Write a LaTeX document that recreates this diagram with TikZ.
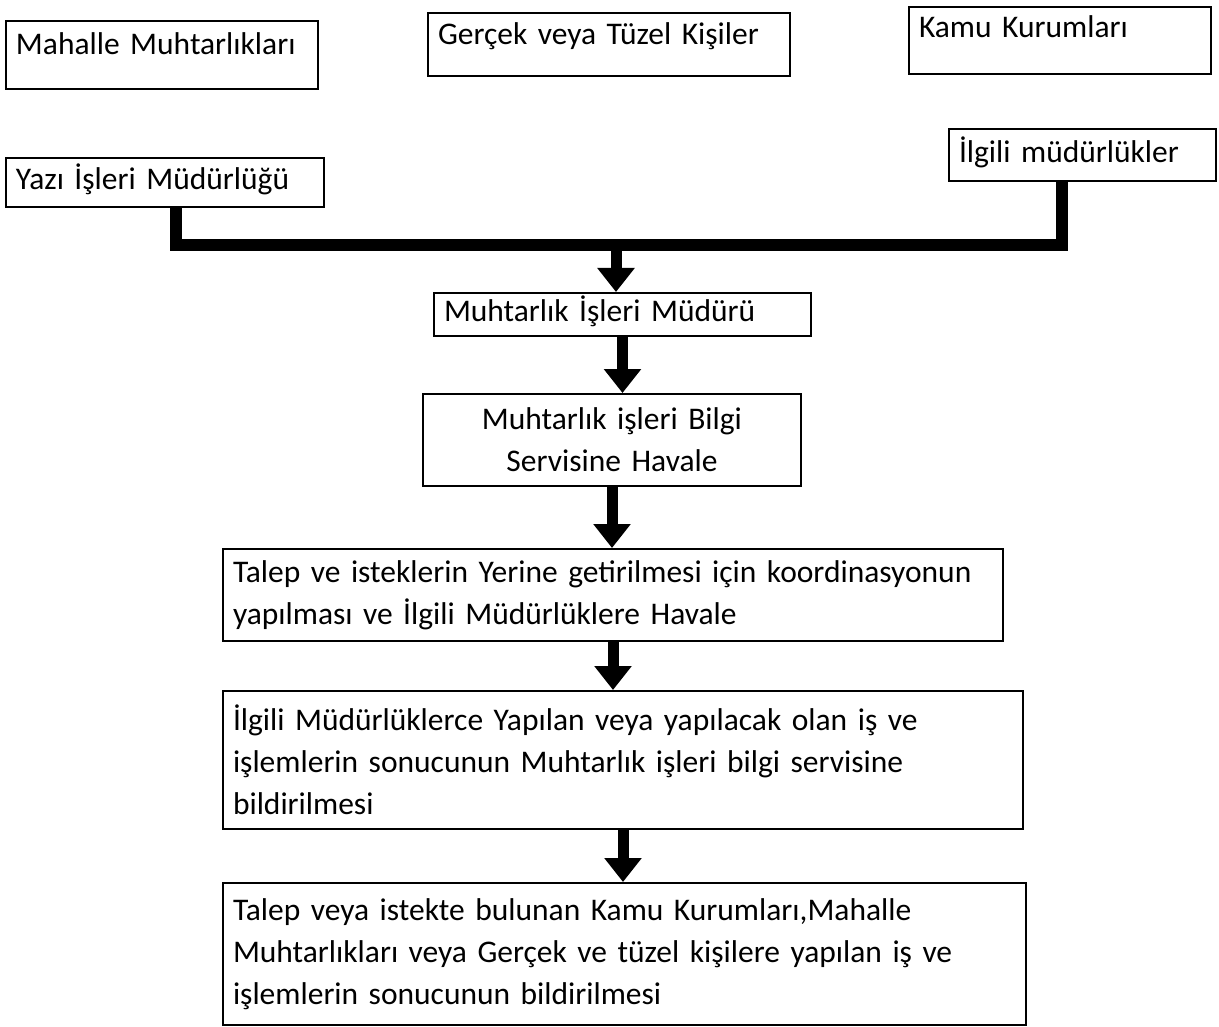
\documentclass[tikz,border=0pt]{standalone}
\usepackage{fontspec}
\setmainfont{Carlito}
\usetikzlibrary{arrows.meta}
\tikzset{
  box/.style={draw,line width=2pt,anchor=north west,inner xsep=10pt,inner ysep=6pt,align=left,font=\fontsize{31.5}{42}\selectfont},
  single/.style={text height=22pt,text depth=#1},
  single/.default=7pt,
  link/.style={line width=12pt},
  arr/.style={line width=11pt,-{Triangle[width=36pt,length=24pt]}}
}
\begin{document}
\begin{tikzpicture}[x=1pt,y=-1pt]
\useasboundingbox (0,0) rectangle (1219,1027);
\pgfmathsetmacro{\kbar}{245}
\node[box,single=23pt,text width=292pt,minimum height=68pt] (mahalle) at (5,20) {Mahalle Muhtarlıkları};
\node[box,single=21pt,text width=342pt,minimum height=63pt] (gercek) at (427,12) {Gerçek veya Tüzel Kişiler};
\node[box,single=27pt,text width=282pt,minimum height=67pt] (kamu) at (908,6) {Kamu Kurumları};
\node[box,single,text width=298pt,minimum height=49pt] (yazi) at (5,157) {Yazı İşleri Müdürlüğü};
\node[box,single,text width=247pt,minimum height=52pt] (ilgili) at (948,128) {İlgili müdürlükler};
\node[box,single,text width=357pt,minimum height=43pt] (mudur) at (433,292) {Muhtarlık İşleri Müdürü};
\node[box,align=center,text width=358pt,minimum height=92pt] (servis) at (422,393) {Muhtarlık işleri Bilgi\\Servisine Havale};
\node[box,text width=760pt,minimum height=92pt] (koord) at (222,548) {Talep ve isteklerin Yerine getirilmesi için koordinasyonun\\yapılması ve İlgili Müdürlüklere Havale};
\node[box,text width=780pt,minimum height=138pt] (sonuc) at (222,690) {İlgili Müdürlüklerce Yapılan veya yapılacak olan iş ve\\işlemlerin sonucunun Muhtarlık işleri bilgi servisine\\bildirilmesi};
\node[box,text width=783pt,minimum height=142pt] (bildir) at (222,882) {Talep veya istekte bulunan Kamu Kurumları,Mahalle\\Muhtarlıkları veya Gerçek ve tüzel kişilere yapılan iş ve\\işlemlerin sonucunun bildirilmesi};
% collecting bar
\coordinate (join) at (616,\kbar);
\draw[link] ([xshift=11pt]yazi.south) |- (join) -| ([xshift=-21pt]ilgili.south);
\draw[arr] (join) -- (join |- mudur.north);
\foreach \a/\b in {mudur/servis,servis/koord,koord/sonuc,sonuc/bildir}{\draw[arr] (\a.south) -- (\a.south |- \b.north);}
\end{tikzpicture}
\end{document}
